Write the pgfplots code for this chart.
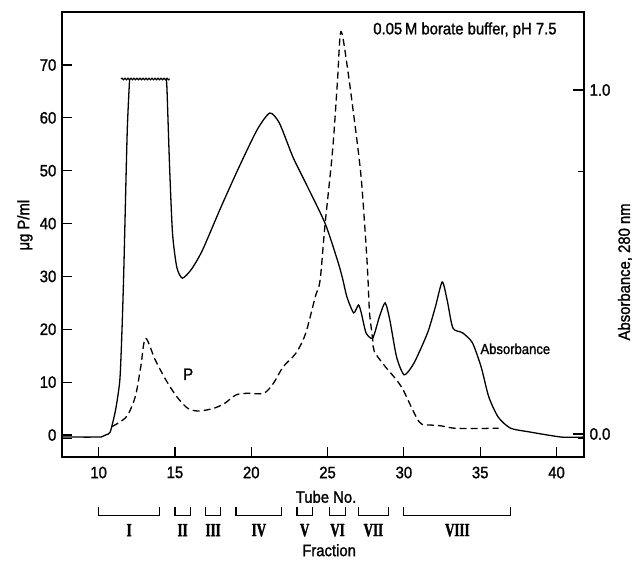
\documentclass[border=0pt]{standalone}
\usepackage{fontspec}
\setmainfont{Liberation Sans}[FakeStretch=0.9, FakeBold=1.3]
\newfontfamily\romfont{Liberation Serif}[FakeStretch=0.7, FakeBold=1.8]
\usepackage{pgfplots}
\pgfplotsset{compat=1.18}
\usetikzlibrary{decorations.pathmorphing}

\begin{document}
\fontsize{16.5}{19}\selectfont
\begin{tikzpicture}
\path[use as bounding box] (-62pt,-103pt) rectangle (570pt,457pt);
% left axis: phosphorus (dashed)
\begin{axis}[
  scale only axis, width=522pt, height=445pt,
  xmin=7.6, xmax=41.8, ymin=-4.16, ymax=80.02,
  xtick={10,15,...,40}, ytick={0,10,...,70},
  extra y ticks={-0.6}, extra y tick labels={},
  xtick pos=bottom, ytick pos=left, tick align=inside,
  major tick length=10pt,
  axis line style={line width=1.3pt},
  tick style={line width=1.2pt, black},
  /pgf/number format/assume math mode=true,
  xticklabel style={yshift=-4pt},
  clip=false,
]
\addplot[line width=1.3pt, dash pattern=on 7pt off 4pt, smooth, tension=0.5] coordinates {
 (10.88,1.6) (11.82,3.46) (12.40,7.25) (12.76,12.9) (13.07,18.3) (13.71,14.2)
 (14.41,10.4) (15.12,7.25) (15.84,5.05) (16.56,4.54) (17.54,5.05) (18.26,6.0)
 (18.99,7.57) (19.71,7.89) (20.81,7.89) (21.45,9.78) (22.09,12.9) (22.93,15.5)
 (23.56,19.2) (24.2,26.2) (24.51,29.3) (24.83,39.7) (25.33,53.9) (25.64,66.6)
 (25.87,76.3) (26.29,69.7) (26.92,55.8) (27.23,47.7) (27.54,35.0) (27.65,29.3)
 (27.75,23.1) (27.96,18.0) (28.06,15.8) (28.79,12.9) (29.83,9.14) (30.99,2.52)
 (31.74,1.89) (32.38,1.76) (33.44,1.27) (36.2,1.27)};

\node at (axis cs:34.0,76.6) {0.05\,M borate buffer, pH 7.5};
\node at (axis cs:15.87,11.5) {P};
\node[font=\fontsize{14.5}{16}\selectfont] at (axis cs:37.3,16.3) {Absorbance};
\node at (axis cs:24.9,-11.7) {Tube No.};
\node[inner sep=1pt] at (axis cs:25.1,-21.8) {Fraction};
\node[rotate=90] at (axis description cs:-0.071,0.521) {μg P/ml};
\node[rotate=90] at (axis description cs:1.0785,0.416) {Absorbance, 280 nm};

% fraction brackets
\draw[line width=1.2pt] (axis cs:10,-13.6) |- (axis cs:14,-15.3) -- (axis cs:14,-13.6);
\draw[line width=1.2pt] (axis cs:15,-13.6) |- (axis cs:16,-15.3) -- (axis cs:16,-13.6);
\draw[line width=1.2pt] (axis cs:17,-13.6) |- (axis cs:18,-15.3) -- (axis cs:18,-13.6);
\draw[line width=1.2pt] (axis cs:19,-13.6) |- (axis cs:22,-15.3) -- (axis cs:22,-13.6);
\draw[line width=1.2pt] (axis cs:23,-13.6) |- (axis cs:24,-15.3) -- (axis cs:24,-13.6);
\draw[line width=1.2pt] (axis cs:25.1,-13.6) |- (axis cs:26.2,-15.3) -- (axis cs:26.2,-13.6);
\draw[line width=1.2pt] (axis cs:27,-13.6) |- (axis cs:29,-15.3) -- (axis cs:29,-13.6);
\draw[line width=1.2pt] (axis cs:30,-13.6) |- (axis cs:37,-15.3) -- (axis cs:37,-13.6);
\begin{scope}[every node/.style={font=\romfont\bfseries\fontsize{18.5}{20}\selectfont}]
\node at (axis cs:12,-18) {I};
\node at (axis cs:15.5,-18) {II};
\node at (axis cs:17.5,-18) {III};
\node at (axis cs:20.5,-18) {IV};
\node at (axis cs:23.5,-18) {V};
\node at (axis cs:25.65,-18) {VI};
\node at (axis cs:28,-18) {VII};
\node at (axis cs:33.5,-18) {VIII};
\end{scope}
\end{axis}

% right axis: absorbance (solid)
\begin{axis}[
  scale only axis, width=522pt, height=445pt,
  xmin=7.6, xmax=41.8, ymin=-0.0669, ymax=1.2267,
  hide x axis, ytick pos=right, tick align=inside,
  ytick={0,1}, yticklabels={0.0,1.0},
  extra y ticks={-0.012,0.762}, extra y tick labels={},
  extra y tick style={major tick length=6pt},
  major tick length=11pt,
  axis line style={line width=1.3pt},
  tick style={line width=1.2pt, black},
]
\addplot[line width=1.3pt, smooth, tension=0.4] coordinates {
 (7.6,-0.009) (10.0,-0.009) (10.2,-0.008) (10.5,-0.002) (10.76,0.006) (11.11,0.070)
 (11.39,0.157) (11.53,0.302) (11.65,0.477) (11.87,0.875) (12.03,1.032)};
\addplot[line width=1.3pt, smooth, tension=0.4] coordinates {
 (14.43,1.032) (14.48,1.0) (14.65,0.776) (14.84,0.584) (15.12,0.485) (15.49,0.453)
 (16.1,0.48) (16.81,0.535) (18.02,0.660) (19.2,0.776) (20.38,0.884) (21.21,0.933)
 (21.84,0.904) (22.73,0.805) (23.56,0.730) (24.83,0.613) (25.64,0.506) (25.96,0.456)
 (26.27,0.398) (26.71,0.352) (27.02,0.375) (27.21,0.352) (27.52,0.294) (27.96,0.279)
 (28.39,0.340) (28.77,0.381) (29.08,0.331) (29.52,0.224) (30.02,0.172) (30.66,0.206)
 (31.55,0.294) (32.06,0.369) (32.51,0.442) (32.83,0.390) (33.21,0.308) (33.85,0.294)
 (34.49,0.265) (35.06,0.195) (35.56,0.108) (36.18,0.049) (36.98,0.017) (38.22,0.006)
 (40.33,-0.009) (41.8,-0.009)};
% off-scale cut at the top of the first peak
\addplot[line width=1.2pt, decorate, decoration={snake, amplitude=0.8pt, segment length=3pt}]
 coordinates {(11.47,1.032) (14.65,1.032)};
\end{axis}
\end{tikzpicture}
\end{document}
